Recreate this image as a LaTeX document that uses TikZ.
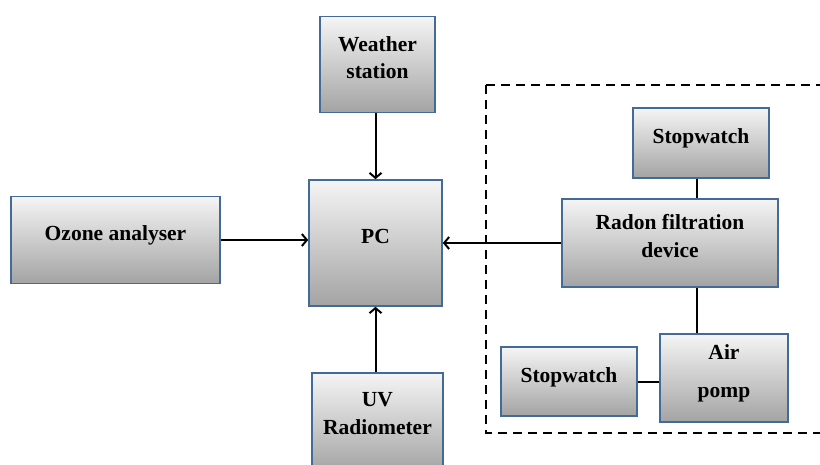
\documentclass[tikz,border=0pt]{standalone}
\usepackage{fontspec}
\setmainfont{Liberation Serif}
\usetikzlibrary{arrows.meta}
\definecolor{boxedge}{RGB}{68,106,152}
\newcommand{\uptext}[2][5pt]{\raisebox{#1}[\height][\depth]{\begin{tabular}{@{}c@{}}#2\end{tabular}}}
\tikzset{
  box/.style={draw=boxedge, line width=1.6pt, rectangle, top color=black!4, bottom color=black!36,
    align=center, font=\fontsize{21.5}{27.5}\selectfont\bfseries, inner sep=0pt},
  arr/.style={line width=2pt, -{Straight Barb[length=5pt,width=12pt,line width=2pt]}},
  link/.style={line width=2pt},
  frame/.style={line width=2pt, dash pattern=on 9pt off 6pt}
}
\begin{document}
\begin{tikzpicture}[x=1pt,y=-1pt]
\clip (0,0) rectangle (820,464);
\fill[white] (0,0) rectangle (820,464);
\draw[frame] (486,85) -- (840,85) (486,85) -- (486,433) -- (840,433);
\node[box, minimum width=115, minimum height=96] (weather) at (377.5,64.5) {\uptext{Weather\\station}};
\node[box, minimum width=209, minimum height=87] (ozone) at (115.5,240) {\uptext{Ozone analyser}};
\node[box, minimum width=133, minimum height=126] (pc) at (375.5,243) {\uptext{PC}};
\node[box, minimum width=131, minimum height=100, anchor=north] (uv) at (377.5,372)
  {\uptext[8pt]{UV\\Radiometer}};
\node[box, minimum width=136, minimum height=70] (sw1) at (701,143) {\uptext{Stopwatch}};
\node[box, minimum width=216, minimum height=88] (radon) at (670,243) {\uptext{Radon filtration\\device}};
\node[box, minimum width=136, minimum height=69] (sw2) at (569,381.5) {\uptext{Stopwatch}};
\node[box, minimum width=128, minimum height=88] (air) at (724,378) {\uptext{Air\\[10pt]pomp}};
\coordinate (lx) at (697,0);
\draw[arr] (weather.south -| pc.north) -- (pc.north);
\draw[arr] (ozone.east) -- (pc.west |- ozone.east);
\draw[arr] (radon.west) -- (pc.east |- radon.west);
\draw[arr] (uv.north -| pc.south) -- (pc.south);
\draw[link] (sw1.south -| lx) -- (radon.north -| lx);
\draw[link] (radon.south -| lx) -- (air.north -| lx);
\draw[link] (sw2.east) -- (air.west |- sw2.east);
\end{tikzpicture}
\end{document}
